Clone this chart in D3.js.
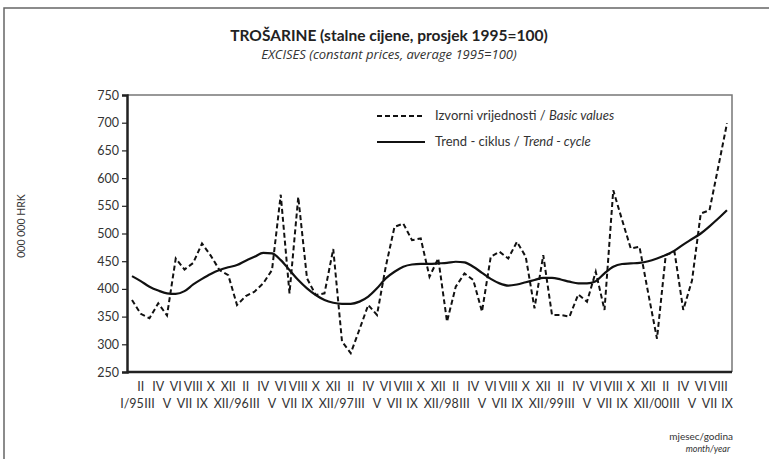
<!DOCTYPE html>
<html>
<head>
<meta charset="utf-8">
<script src="https://cdn.jsdelivr.net/npm/d3@7"></script>
<style>
  body { margin: 0; background: #fff; }
  text { font-family: Lato, "Open Sans", sans-serif; fill: #333; }
</style>
</head>
<body>
<svg id="chart" width="769" height="459"></svg>
<script>
// monthly data I/1995 - IX/2000
const roman = ['I', 'II', 'III', 'IV', 'V', 'VI', 'VII', 'VIII', 'IX', 'X', 'XI', 'XII'];
const startYear = 1995;

// basic values (dashed)
const basicValues = [
    380, 355, 347, 374, 352, 455, 435, 447, 482, 460, 434, 425,
    371, 387, 395, 410, 434, 570, 392, 566, 419, 389, 392, 472,
    305, 284, 327, 371, 353, 440, 512, 518, 488, 491, 422, 455,
    341, 404, 428, 416, 359, 458, 467, 455, 485, 458, 365, 461,
    353, 353, 350, 390, 377, 431, 362, 578, 525, 473, 476, 392,
    310, 461, 467, 362, 415, 536, 542, 620, 699
];

// trend - cycle (solid)
const trendValues = [
    423, 414, 404, 397, 392, 391, 396, 408, 418, 427, 434, 439,
    443, 451, 458, 465, 464, 452, 434, 416, 401, 389, 380, 375,
    373, 373, 377, 386, 401, 419, 431, 440, 444, 445, 445, 446,
    447, 449, 448, 440, 429, 418, 410, 406, 408, 412, 416, 420,
    420, 417, 413, 410, 410, 414, 428, 440, 445, 446, 447, 450,
    455, 461, 469, 480, 490, 500, 513, 527, 542
];

const yTicks = [250, 300, 350, 400, 450, 500, 550, 600, 650, 700, 750];

const svg = d3.select('#chart');

// outer frame (top and left)
svg.append('path')
    .attr('d', 'M4,459 L4,8 L769,8')
    .attr('fill', 'none')
    .attr('stroke', '#666')
    .attr('stroke-width', 1.5);

// titles
svg.append('text')
    .attr('x', 389).attr('y', 41)
    .attr('text-anchor', 'middle')
    .style('font-size', '15.5px')
    .style('font-weight', 'bold')
    .style('fill', '#222')
    .text('TROŠARINE (stalne cijene, prosjek 1995=100)');

svg.append('text')
    .attr('x', 389).attr('y', 59)
    .attr('text-anchor', 'middle')
    .style('font-family', '"Open Sans", sans-serif')
    .style('font-size', '13px')
    .style('font-style', 'italic')
    .text('EXCISES (constant prices, average 1995=100)');

const plot = { left: 127, right: 732, top: 95, bottom: 372 };

const x = d3.scaleLinear()
    .domain([0, basicValues.length - 1])
    .range([plot.left + 5, plot.right - 5]);

const y = d3.scaleLinear()
    .domain([250, 750])
    .range([plot.bottom, plot.top]);

// top and right border, thin grey
svg.append('path')
    .attr('d', `M${plot.left},${plot.top} L${plot.right},${plot.top} L${plot.right},${plot.bottom}`)
    .attr('fill', 'none')
    .attr('stroke', '#777')
    .attr('stroke-width', 1.5);

// y axis
const yAxis = svg.append('g')
    .attr('transform', `translate(${plot.left},0)`)
    .call(d3.axisLeft(y).tickValues(yTicks).tickSize(5).tickPadding(3));
yAxis.select('.domain').attr('stroke', '#222').attr('stroke-width', 2.5);
yAxis.selectAll('.tick line').attr('stroke', '#222').attr('stroke-width', 1.2);
yAxis.selectAll('.tick text')
    .style('font-size', '12.5px')
    .style('font-family', 'Lato, sans-serif')
    .style('fill', '#333');

// x axis line
svg.append('line')
    .attr('x1', plot.left).attr('x2', plot.right)
    .attr('y1', plot.bottom).attr('y2', plot.bottom)
    .attr('stroke', '#222')
    .attr('stroke-width', 2.5);

// month labels, odd months in lower row, even in upper
const monthLabel = i => {
    const m = i % 12;
    if (m === 0) return 'I/' + String(startYear + i / 12).slice(2);
    return roman[m];
};

svg.append('g').selectAll('text')
    .data(d3.range(basicValues.length))
    .join('text')
    .attr('x', i => x(i))
    .attr('y', i => i % 2 === 1 ? 391 : 408)
    .attr('text-anchor', 'middle')
    .style('font-size', '12.5px')
    .text(monthLabel);

// lines
const line = d3.line()
    .x((d, i) => x(i))
    .y(d => y(d));

svg.append('path')
    .datum(trendValues)
    .attr('d', line.curve(d3.curveMonotoneX))
    .attr('fill', 'none')
    .attr('stroke', '#111')
    .attr('stroke-width', 2.2);

svg.append('path')
    .datum(basicValues)
    .attr('d', d3.line().x((d, i) => x(i)).y(d => y(d)))
    .attr('fill', 'none')
    .attr('stroke', '#111')
    .attr('stroke-width', 2)
    .attr('stroke-dasharray', '5,3')
    .attr('stroke-linejoin', 'miter');

// legend
const legend = svg.append('g');
legend.append('line')
    .attr('x1', 377).attr('x2', 425).attr('y1', 116).attr('y2', 116)
    .attr('stroke', '#111').attr('stroke-width', 2).attr('stroke-dasharray', '5,3');
legend.append('line')
    .attr('x1', 377).attr('x2', 425).attr('y1', 142).attr('y2', 142)
    .attr('stroke', '#111').attr('stroke-width', 2.2);

const l1 = legend.append('text').attr('x', 435).attr('y', 120).style('font-size', '13px');
l1.append('tspan').text('Izvorni vrijednosti / ');
l1.append('tspan').style('font-style', 'italic').text('Basic values');

const l2 = legend.append('text').attr('x', 435).attr('y', 146).style('font-size', '13px');
l2.append('tspan').text('Trend - ciklus / ');
l2.append('tspan').style('font-style', 'italic').text('Trend - cycle');

// axis titles
svg.append('text')
    .attr('transform', 'translate(25,226) rotate(-90)')
    .attr('text-anchor', 'middle')
    .style('font-size', '10.5px')
    .text('000 000 HRK');

svg.append('text')
    .attr('x', 733).attr('y', 440)
    .attr('text-anchor', 'end')
    .style('font-size', '10px')
    .text('mjesec/godina');

svg.append('text')
    .attr('x', 730).attr('y', 452)
    .attr('text-anchor', 'end')
    .style('font-size', '9px')
    .style('font-style', 'italic')
    .text('month/year');
</script>
</body>
</html>
